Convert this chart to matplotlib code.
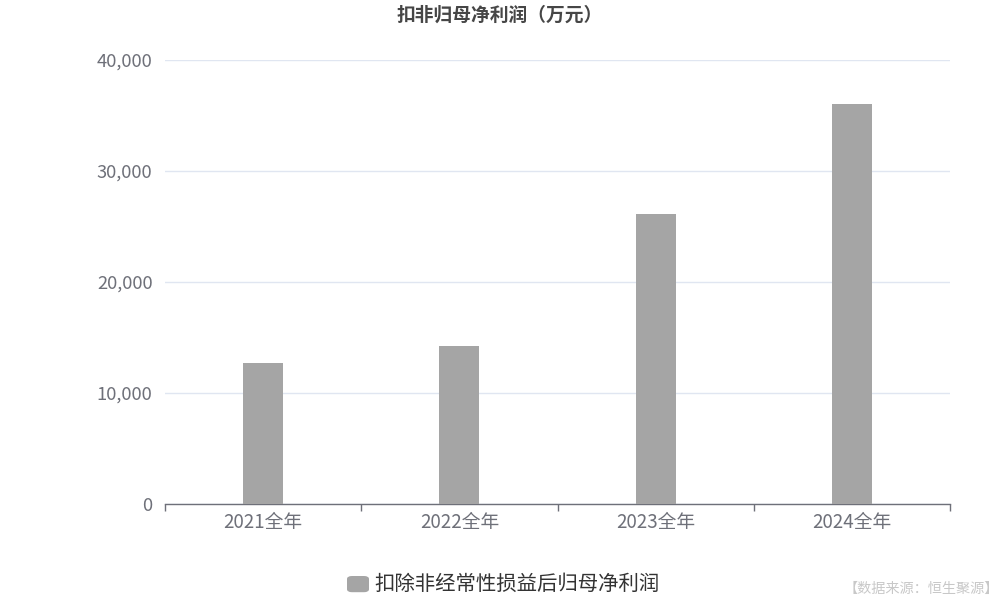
import matplotlib
matplotlib.use("Agg")
import matplotlib.pyplot as plt
from matplotlib.patches import FancyBboxPatch
from matplotlib.ticker import FuncFormatter, MultipleLocator

plt.rcParams['font.family'] = ['Noto Sans CJK SC', 'DejaVu Sans']

categories = ["2021全年", "2022全年", "2023全年", "2024全年"]
values = [12700, 14230, 26130, 36050]
series_name = "扣除非经常性损益后归母净利润"
title = "扣非归母净利润（万元）"
source = "【数据来源：恒生聚源】"

fig = plt.figure(figsize=(10, 6), dpi=100)
ax = fig.add_axes([0.165, 1 - 0.84, 0.785, 0.74])

x = list(range(len(categories)))
ax.bar(x, values, width=0.204, color="#a5a5a5", zorder=3)
ax.set_xlim(-0.5, len(categories) - 0.5)
ax.set_ylim(0, 40000)
ax.yaxis.set_major_locator(MultipleLocator(10000))
ax.yaxis.set_major_formatter(FuncFormatter(lambda v, p: f"{int(v):,}"))
ax.grid(axis="y", color="#e0e6f1", linewidth=1, zorder=0)
ax.set_axisbelow(True)

for s in ["top", "right", "left"]:
    ax.spines[s].set_visible(False)
ax.spines["bottom"].set_color("#6e7079")
ax.spines["bottom"].set_linewidth(1)

ax.set_xticks(x)
ax.set_xticklabels(categories)
ax.set_xticks([i - 0.5 for i in range(len(categories) + 1)], minor=True)
ax.tick_params(axis="x", which="major", length=0, pad=6, labelsize=13.5, labelcolor="#6e7079")
ax.tick_params(axis="x", which="minor", length=5, color="#6e7079", width=1)
ax.tick_params(axis="y", length=0, pad=9, labelsize=13.2, labelcolor="#6e7079")

fig.text(0.5, 0.975, title, ha="center", va="center", fontsize=13.5,
         fontweight="bold", color="#464646")

# legend
fig.patches.append(FancyBboxPatch((0.347, 1 - 0.987), 0.022, 0.027,
                                  boxstyle="round,pad=0,rounding_size=0.005",
                                  transform=fig.transFigure, facecolor="#a5a5a5",
                                  edgecolor="none"))
fig.text(0.374, 1 - 0.974, series_name, ha="left", va="center", fontsize=14.7, color="#333333")

fig.text(0.999, 0.006, source, ha="right", va="bottom", fontsize=10.2, color="#c8c8c8")

fig.savefig("out.png", dpi=100)
